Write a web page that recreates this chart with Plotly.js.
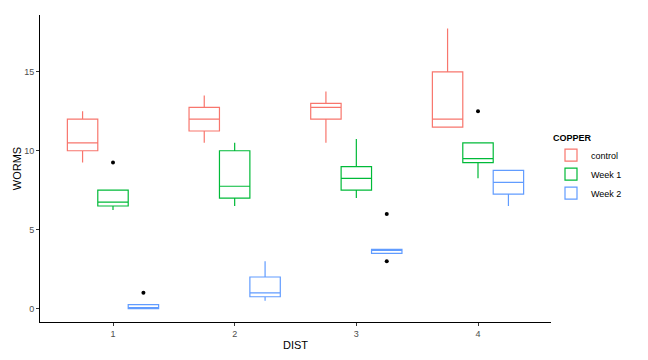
<!DOCTYPE html>
<html>
<head>
<meta charset="utf-8">
<script src="https://cdn.plot.ly/plotly-3.0.1.min.js"></script>
<style>html,body{margin:0;padding:0;background:#fff;}#chart{width:648px;height:360px;}</style>
</head>
<body>
<div id="chart"></div>
<script>
// Categories
const dist = ["1", "2", "3", "4"];
const groups = ["control", "Week 1", "Week 2"];
const colors = ["#F8766D", "#00BA38", "#619CFF"];

// Box statistics per group (one value per DIST)
const controlLower = [9.25, 10.5, 10.5, 11.5];
const controlQ1 = [10, 11.25, 12, 11.5];
const controlMedian = [10.5, 12, 12.75, 12];
const controlQ3 = [12, 12.75, 13, 15];
const controlUpper = [12.5, 13.5, 13.75, 17.75];
const controlOutliers = [[], [], [], []];

const week1Lower = [6.25, 6.5, 7, 8.25];
const week1Q1 = [6.5, 7, 7.5, 9.25];
const week1Median = [6.75, 7.75, 8.25, 9.5];
const week1Q3 = [7.5, 10, 9, 10.5];
const week1Upper = [7.5, 10.5, 10.75, 10.5];
const week1Outliers = [[9.25], [], [], [12.5]];

const week2Lower = [0, 0.5, 3.5, 6.5];
const week2Q1 = [0, 0.75, 3.5, 7.25];
const week2Median = [0, 1, 3.75, 8];
const week2Q3 = [0.25, 2, 3.75, 8.75];
const week2Upper = [0.25, 3, 3.75, 8.75];
const week2Outliers = [[1], [], [3, 6], []];

const stats = [
  [controlLower, controlQ1, controlMedian, controlQ3, controlUpper, controlOutliers],
  [week1Lower, week1Q1, week1Median, week1Q3, week1Upper, week1Outliers],
  [week2Lower, week2Q1, week2Median, week2Q3, week2Upper, week2Outliers]
];

const traces = groups.map((g, k) => {
  const s = stats[k];
  const t = {
    type: "box",
    name: g,
    x: dist,
    lowerfence: s[0],
    q1: s[1],
    median: s[2],
    q3: s[3],
    upperfence: s[4],
    boxpoints: "outliers",
    jitter: 0,
    pointpos: 0,
    whiskerwidth: 0,
    fillcolor: "rgba(255,255,255,0)",
    line: {color: colors[k], width: 1.2},
    marker: {color: "#000000", size: 4, line: {width: 0}},
    hoverinfo: "skip"
  };
  if (s[5].some(a => a.length > 0)) t.y = s[5];
  return t;
});

const layout = {
  width: 648,
  height: 360,
  margin: {l: 40, r: 97, t: 15, b: 38},
  paper_bgcolor: "#ffffff",
  plot_bgcolor: "#ffffff",
  boxmode: "group",
  boxgap: 0.25,
  boxgroupgap: 0,
  font: {family: "Liberation Sans, Arial, sans-serif", color: "#000"},
  xaxis: {
    type: "category",
    range: [-0.6, 3.6],
    showline: true,
    linecolor: "#000",
    linewidth: 1,
    showgrid: false,
    zeroline: false,
    ticks: "outside",
    ticklen: 3,
    tickcolor: "#333",
    tickfont: {size: 9, color: "#4d4d4d"},
    title: {text: "DIST", font: {size: 11, color: "#000"}, standoff: 3}
  },
  yaxis: {
    range: [-0.85, 18.6],
    tickvals: [0, 5, 10, 15],
    showline: true,
    linecolor: "#000",
    linewidth: 1,
    showgrid: false,
    zeroline: false,
    ticks: "outside",
    ticklen: 3,
    tickcolor: "#333",
    tickfont: {size: 9, color: "#4d4d4d"},
    title: {text: "WORMS", font: {size: 11, color: "#000"}, standoff: 0}
  },
  legend: {
    x: 1.0,
    xanchor: "left",
    y: 0.5,
    yanchor: "middle",
    title: {text: "<b>COPPER</b>", font: {size: 9}},
    font: {size: 9},
    tracegroupgap: 0,
    itemwidth: 30
  },
  showlegend: true
};

Plotly.newPlot("chart", traces, layout, {displayModeBar: false, staticPlot: true});
</script>
</body>
</html>
